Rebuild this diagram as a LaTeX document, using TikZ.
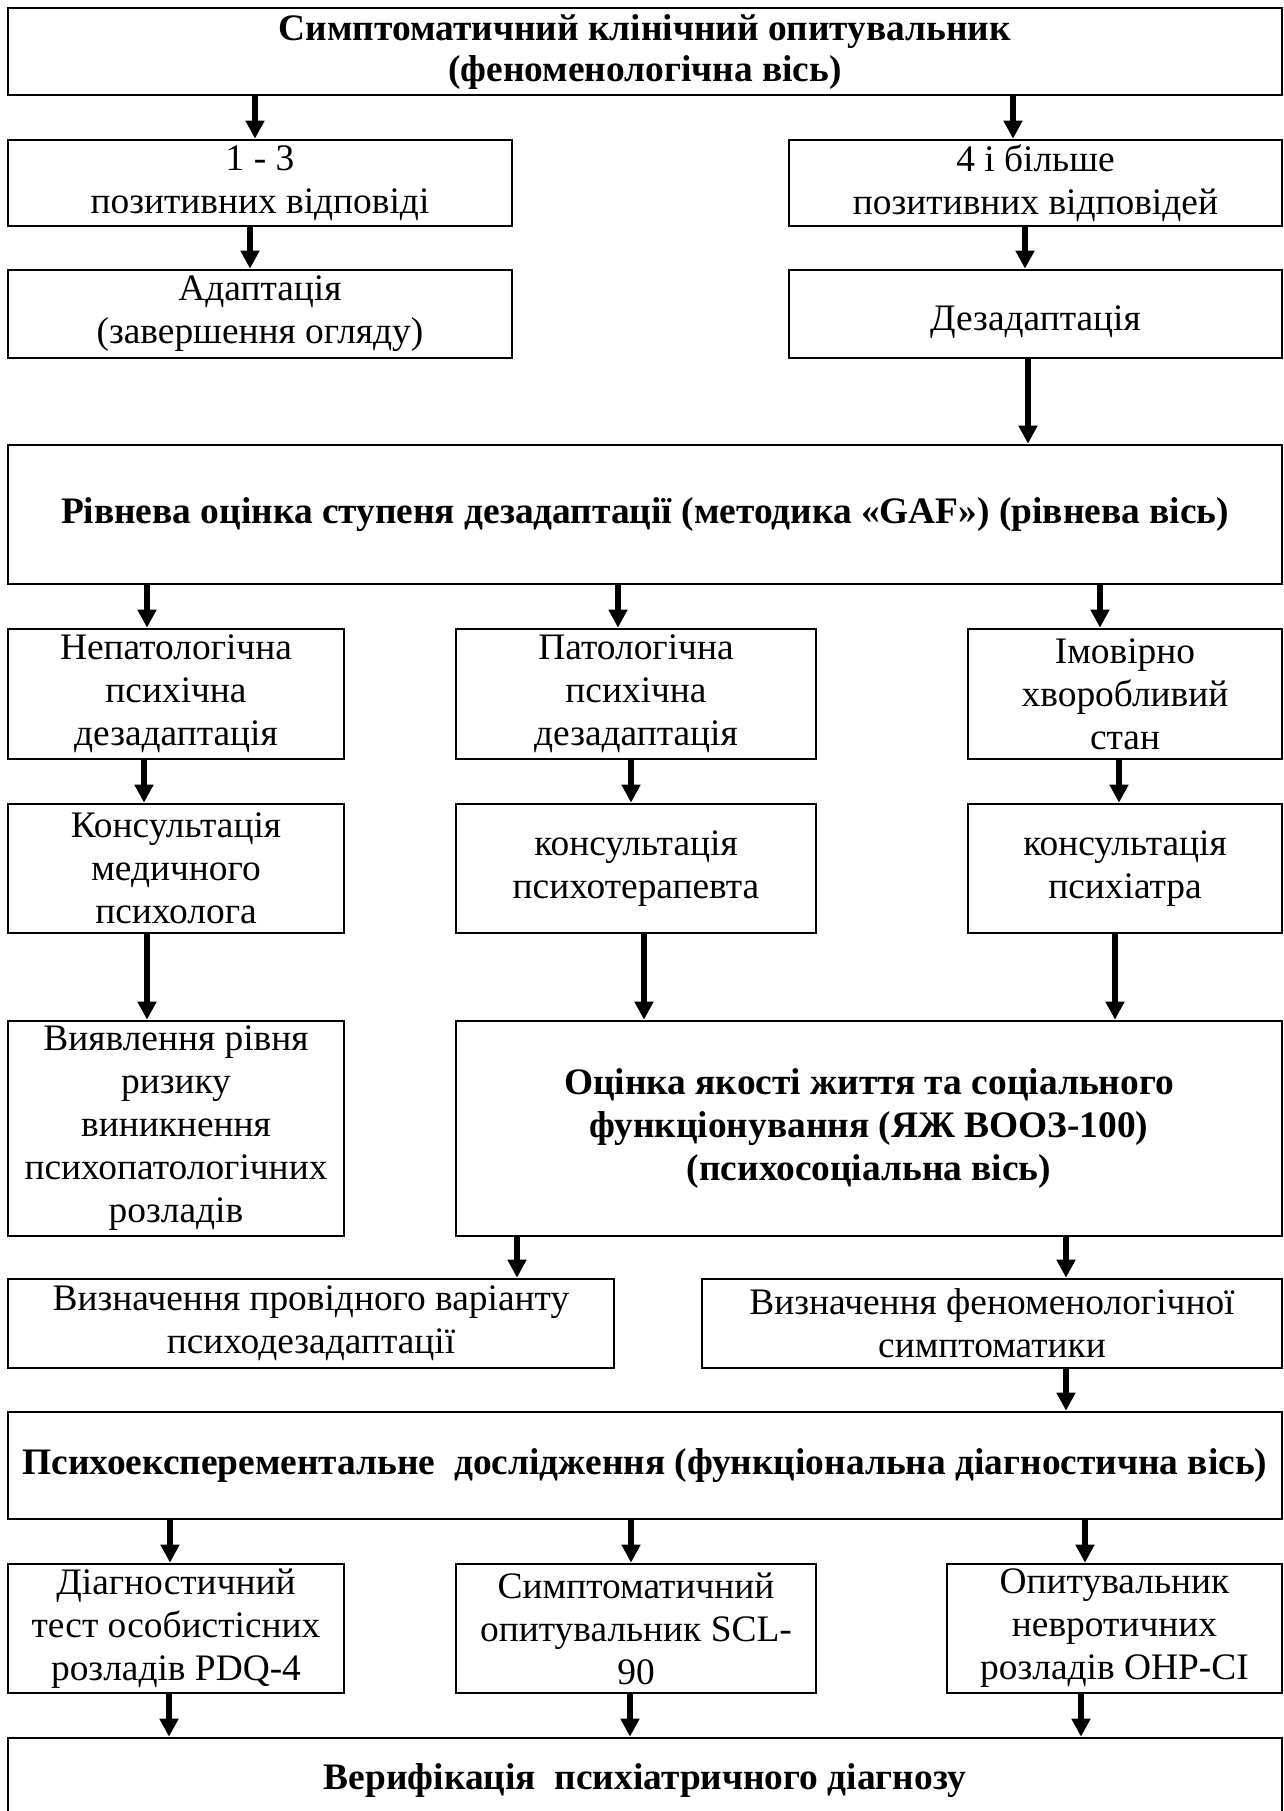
\documentclass[tikz,border=0pt]{standalone}
\usepackage{fontspec}
\setmainfont{Liberation Serif}
\usetikzlibrary{arrows.meta}

\begin{document}
\begin{tikzpicture}[x=0.5pt,y=-0.5pt,>={Triangle[length=9pt,width=9pt]},
  box/.style={draw,line width=1.3pt,align=center,inner sep=0pt,font=\fontsize{18.7}{21.5}\selectfont},
  bbox/.style={box,font=\fontsize{18.7}{21.5}\selectfont\bfseries},
  arr/.style={->,line width=3pt}]
\useasboundingbox (0,0) rectangle (1284,1811);
\clip (0,0) rectangle (1284,1811);
% first axis
\node[bbox,minimum width=637pt,minimum height=43.5pt,font=\fontsize{18.7}{20.5}\selectfont\bfseries] (top) at (645,51.5) {Симптоматичний клінічний опитувальник\\(феноменологічна вісь)};
\node[box,minimum width=252pt,minimum height=43pt] (n13) at (260,183) {1 - 3\\позитивних відповіді};
\node[box,minimum width=246.5pt,minimum height=43pt] (n4) at (1035.5,183) {4 і більше\\позитивних відповідей};
\node[box,minimum width=252pt,minimum height=44pt] (adapt) at (260,314) {Адаптація\\(завершення огляду)};
\node[box,minimum width=246.5pt,minimum height=44pt,text height=18pt,text depth=2pt] (dezad) at (1035.5,314) {Дезадаптація};
\draw[arr] (top.south -| 255,0) -- (n13.north -| 255,0);
\draw[arr] (top.south -| 1013,0) -- (n4.north -| 1013,0);
\draw[arr] (n13.south -| 250,0) -- (adapt.north -| 250,0);
\draw[arr] (n4.south -| 1025,0) -- (dezad.north -| 1025,0);
% level axis
\node[bbox,minimum width=637pt,minimum height=69.5pt] (gaf) at (645,514.5) {Рівнева оцінка ступеня дезадаптації (методика «GAF») (рівнева вісь)};
\draw[arr] (dezad.south -| 1028,0) -- (gaf.north -| 1028,0);
\node[box,minimum width=168pt,minimum height=65pt] (nepat) at (176,694) {Непатологічна\\психічна\\дезадаптація};
\node[box,minimum width=180pt,minimum height=65pt] (pat) at (636,694) {Патологічна\\психічна\\дезадаптація};
\node[box,minimum width=157pt,minimum height=65pt] (hvor) at (1125,694) {Імовірно\\хворобливий\\стан};
\draw[arr] (gaf.south -| 147,0) -- (nepat.north -| 147,0);
\draw[arr] (gaf.south -| 618,0) -- (pat.north -| 618,0);
\draw[arr] (gaf.south -| 1100,0) -- (hvor.north -| 1100,0);
\node[box,minimum width=168pt,minimum height=64.5pt] (kmed) at (176,868.5) {Консультація\\медичного\\психолога};
\node[box,minimum width=180pt,minimum height=64.5pt] (kpter) at (636,868.5) {консультація\\психотерапевта};
\node[box,minimum width=157pt,minimum height=64.5pt] (kpsy) at (1125,868.5) {консультація\\психіатра};
\draw[arr] (nepat.south -| 144,0) -- (kmed.north -| 144,0);
\draw[arr] (pat.south -| 631,0) -- (kpter.north -| 631,0);
\draw[arr] (hvor.south -| 1119,0) -- (kpsy.north -| 1119,0);
% psychosocial axis
\node[box,minimum width=168pt,minimum height=107.5pt] (ryzyk) at (176,1128.5) {Виявлення рівня\\ризику\\виникнення\\психопатологічних\\розладів};
\node[bbox,minimum width=413pt,minimum height=107.5pt] (yazh) at (869,1128.5) {Оцінка якості життя та соціального\\функціонування (ЯЖ ВООЗ-100)\\(психосоціальна вісь)};
\draw[arr] (kmed.south -| 147,0) -- (ryzyk.north -| 147,0);
\draw[arr] (kpter.south -| 644,0) -- (yazh.north -| 644,0);
\draw[arr] (kpsy.south -| 1115,0) -- (yazh.north -| 1115,0);
\node[box,minimum width=303pt,minimum height=44.5pt] (provid) at (311,1323.5) {Визначення провідного варіанту\\психодезадаптації};
\node[box,minimum width=290pt,minimum height=44.5pt] (fenom) at (992,1323.5) {Визначення феноменологічної\\симптоматики};
\draw[arr] (yazh.south -| 517,0) -- (provid.north -| 517,0);
\draw[arr] (yazh.south -| 1066,0) -- (fenom.north -| 1066,0);
% functional axis
\node[bbox,minimum width=637pt,minimum height=53.5pt] (psyexp) at (645,1465.5) {Психоексперементальне\ \ дослідження (функціональна діагностична вісь)};
\draw[arr] (fenom.south -| 1066,0) -- (psyexp.north -| 1066,0);
\node[box,minimum width=168pt,minimum height=64.5pt] (pdq) at (176,1628.5) {Діагностичний\\тест особистісних\\розладів PDQ-4};
\node[box,minimum width=180pt,minimum height=64.5pt] (scl) at (636,1628.5) {Симптоматичний\\опитувальник SCL-\\90};
\node[box,minimum width=167.5pt,minimum height=64.5pt] (onr) at (1114.5,1628.5) {Опитувальник\\невротичних\\розладів ОНР-СІ};
\draw[arr] (psyexp.south -| 170,0) -- (pdq.north -| 170,0);
\draw[arr] (psyexp.south -| 631,0) -- (scl.north -| 631,0);
\draw[arr] (psyexp.south -| 1085,0) -- (onr.north -| 1085,0);
\node[bbox,minimum width=637pt,minimum height=43pt] (verif) at (645,1781) {Верифікація\ \ психіатричного діагнозу};
\draw[arr] (pdq.south -| 169,0) -- (verif.north -| 169,0);
\draw[arr] (scl.south -| 630,0) -- (verif.north -| 630,0);
\draw[arr] (onr.south -| 1081,0) -- (verif.north -| 1081,0);
\end{tikzpicture}
\end{document}
